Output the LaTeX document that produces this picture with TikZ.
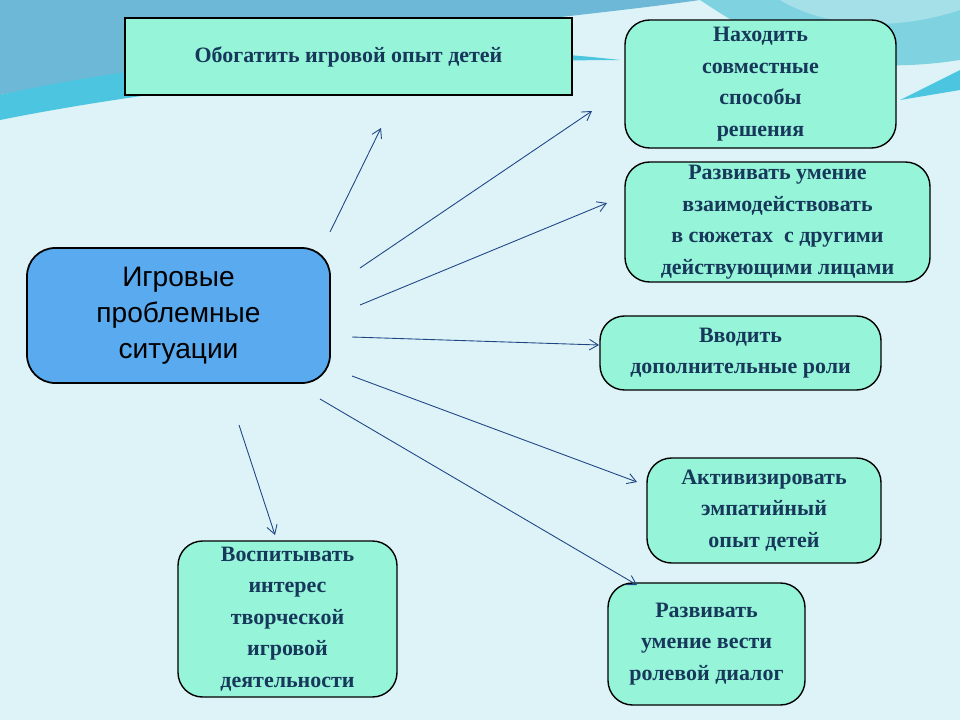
\documentclass[tikz,border=0pt]{standalone}
\usepackage{fontspec}
\setmainfont{Liberation Serif}
\newfontfamily\sansf{Liberation Sans}
\usetikzlibrary{arrows.meta}
\definecolor{bg}{HTML}{DDF3F8}
\definecolor{wave1}{HTML}{6DB8D6}
\definecolor{wave2}{HTML}{7FD3E0}
\definecolor{wave3}{HTML}{4CC6E0}
\definecolor{boxf}{HTML}{96F5D9}
\definecolor{txt}{HTML}{17385A}
\definecolor{ctr}{HTML}{5AAAF0}
\definecolor{arr}{HTML}{1F4585}
\tikzset{
 goal/.style={draw=black,line width=0.8pt,fill=boxf,rounded corners=14pt,text=txt,align=center,
   font=\bfseries\fontsize{12.5}{18}\selectfont,inner sep=0pt},
 conn/.style={draw=arr,line width=0.5pt,-{Straight Barb[length=5pt,width=6pt]}}
}
\begin{document}
\begin{tikzpicture}[x=0.02cm,y=-0.02cm]
\fill[bg] (0,0) rectangle (960,720);
\useasboundingbox (0,0) rectangle (960,720);
% waves
\fill[wave1] (0,0) -- (700,0) .. controls (560,20) and (300,40) .. (0,95) -- cycle;
\fill[wave2] (700,0) .. controls (760,40) and (830,80) .. (960,60) -- (960,0) -- cycle;
\fill[wave3] (0,95) .. controls (200,50) and (450,40) .. (620,60) .. controls (450,60) and (200,80) .. (0,120) -- cycle;
\fill[wave2!70!white] (780,0) .. controls (830,30) and (900,30) .. (960,10) -- (960,0) -- cycle;
\fill[wave3] (900,100) -- (960,70) -- (960,90) -- cycle;
% boxes
\node[goal,rounded corners=0pt,minimum width=447*0.02cm,minimum height=77*0.02cm] (g0) at (348.5,56.5) {Обогатить игровой опыт детей};
\node[goal,minimum width=271*0.02cm,minimum height=128*0.02cm] (g1) at (760.5,84) {Находить\\совместные\\способы\\ решения};
\node[goal,minimum width=305*0.02cm,minimum height=120*0.02cm] (g2) at (777.5,222) {Развивать умение\\взаимодействовать\\в сюжетах\ \ с другими\\действующими лицами};
\node[goal,minimum width=281*0.02cm,minimum height=74*0.02cm] (g3) at (740.5,353) {Вводить\\дополнительные роли};
\node[goal,minimum width=234*0.02cm,minimum height=105*0.02cm] (g4) at (764,510.5) {Активизировать\\эмпатийный\\ опыт детей};
\node[goal,minimum width=197*0.02cm,minimum height=122*0.02cm] (g5) at (706.5,644) {Развивать\\умение вести\\ролевой диалог};
\node[goal,minimum width=219*0.02cm,minimum height=156*0.02cm] (g6) at (287.5,619) {Воспитывать\\интерес\\творческой\\игровой\\деятельности};
\node[draw=black,line width=1pt,fill=ctr,rounded corners=16pt,align=center,text=black,
  font=\sansf\fontsize{16}{20.5}\selectfont,minimum width=303*0.02cm,minimum height=135*0.02cm] (c) at (178.5,315.5) {Игровые\\проблемные\\ситуации};
% arrow endpoints
\coordinate (s0) at (330,232); \coordinate (e0) at (381,128);
\coordinate (s1) at (360,268); \coordinate (e1) at (592,111);
\coordinate (s2) at (360,305); \coordinate (e2) at (607,203);
\coordinate (s3) at (352,337); \coordinate (e3) at (599,345);
\coordinate (s4) at (352,376); \coordinate (e4) at (637,482);
\coordinate (s5) at (320,399); \coordinate (e5) at (637,585);
\coordinate (s6) at (239,425); \coordinate (e6) at (275,535);
\foreach \i in {0,...,6} \draw[conn] (s\i) -- (e\i);
\end{tikzpicture}
\end{document}
